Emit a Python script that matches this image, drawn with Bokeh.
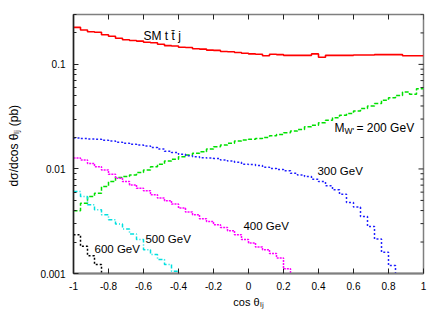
import numpy as np
from bokeh.plotting import figure
from bokeh.models import Range1d, FixedTicker, Label
from bokeh.embed import file_html
from bokeh.resources import INLINE

# ---------------- data ----------------
x_ticks = [-1, -0.8, -0.6, -0.4, -0.2, 0, 0.2, 0.4, 0.6, 0.8, 1]
x_tick_labels = ["-1", "-0.8", "-0.6", "-0.4", "-0.2", "0", "0.2", "0.4", "0.6", "0.8", "1"]
y_ticks = [0.001, 0.01, 0.1]
y_tick_labels = ["0.001", "0.01", "0.1"]
y_minor_ticks = [0.002, 0.003, 0.004, 0.005, 0.006, 0.007, 0.008, 0.009,
                 0.02, 0.03, 0.04, 0.05, 0.06, 0.07, 0.08, 0.09, 0.2, 0.3]

n_bins = 50
bin_edges = np.linspace(-1.0, 1.0, n_bins + 1)

sm_ttj = [0.226, 0.213, 0.205, 0.203, 0.192, 0.186, 0.178, 0.172, 0.169, 0.167,
          0.163, 0.161, 0.156, 0.151, 0.150, 0.146, 0.145, 0.141, 0.140, 0.137,
          0.136, 0.133, 0.132, 0.130, 0.128, 0.126, 0.125, 0.121, 0.125, 0.124,
          0.122, 0.122, 0.122, 0.122, 0.126, 0.117, 0.122, 0.122, 0.122, 0.122,
          0.123, 0.123, 0.123, 0.124, 0.124, 0.124, 0.124, 0.121, 0.121, 0.121]

w200 = [0.00398, 0.00471, 0.00545, 0.00587, 0.00679, 0.00757, 0.00826, 0.00845, 0.00877, 0.00923,
        0.00978, 0.0105, 0.0111, 0.0119, 0.0124, 0.0131, 0.0136, 0.0141, 0.0146, 0.0155,
        0.0163, 0.0169, 0.0176, 0.0185, 0.0189, 0.0192, 0.0195, 0.0200, 0.0208, 0.0214,
        0.0222, 0.0230, 0.0239, 0.0253, 0.0262, 0.0276, 0.0293, 0.0308, 0.0327, 0.0339,
        0.0359, 0.0379, 0.0401, 0.0422, 0.0455, 0.0480, 0.0505, 0.0545, 0.0518, 0.0586]

w300 = [0.0198, 0.0195, 0.0193, 0.0192, 0.0188, 0.0185, 0.0180, 0.0176, 0.0172, 0.0169,
        0.0166, 0.0160, 0.0155, 0.0148, 0.0144, 0.0138, 0.0134, 0.0131, 0.0128, 0.0127,
        0.0126, 0.0122, 0.0119, 0.0116, 0.0111, 0.0110, 0.0108, 0.0104, 0.0101, 0.0099,
        0.0096, 0.0091, 0.00877, 0.00845, 0.00798, 0.00757, 0.00689, 0.00631, 0.00574, 0.00478,
        0.00432, 0.00351, 0.00282, 0.00214, 0.00160, 0.00119]

w400 = [0.0127, 0.0122, 0.0113, 0.0105, 0.00978, 0.00890, 0.00814, 0.00757, 0.00704, 0.00655,
        0.00617, 0.00565, 0.00526, 0.00496, 0.00461, 0.00422, 0.00387, 0.00365, 0.00334, 0.00315,
        0.00293, 0.00276, 0.00257, 0.00235, 0.00211, 0.00196, 0.00179, 0.00169, 0.00155, 0.00141,
        0.00111]

w500 = [0.00608, 0.00545, 0.00454, 0.00407, 0.00365, 0.00327, 0.00297, 0.00267, 0.00239, 0.00211,
        0.00169, 0.00152, 0.00136, 0.00122, 0.00105]

w600 = [0.00235, 0.00182, 0.00148, 0.00122]

x_title = "cos \u03b8\u2097\u2c7c"
y_title = "d\u03c3/dcos \u03b8\u2097\u2c7c  (pb)"

# ---------------- figure ----------------
FONT = "Liberation Sans"
X_MIN, X_MAX = -1.0, 1.0
Y_MIN, Y_MAX = 0.001, 0.3

p = figure(width=443, height=310, x_range=Range1d(X_MIN, X_MAX), y_range=Range1d(Y_MIN, Y_MAX),
           y_axis_type="log", output_backend="svg", toolbar_location=None,
           min_border_left=73, min_border_right=20, min_border_top=14, min_border_bottom=36)
p.xgrid.visible = False
p.ygrid.visible = False
p.outline_line_color = "#7f7f7f"
p.outline_line_width = 1.5
p.background_fill_color = "white"
p.border_fill_color = "white"


def style_axis(ax, color, width):
    ax.axis_line_color = color
    ax.axis_line_width = width
    ax.major_tick_in = 5
    ax.major_tick_out = 0
    ax.minor_tick_in = 3
    ax.minor_tick_out = 0
    ax.major_tick_line_color = "#222222"
    ax.minor_tick_line_color = "#222222"
    ax.major_label_text_font = FONT
    ax.major_label_text_color = "black"
    ax.major_label_text_font_size = "10px"
    ax.major_label_standoff = 8
    ax.axis_label_text_font = FONT
    ax.axis_label_text_font_style = "normal"
    ax.axis_label_text_color = "black"


xa = p.xaxis[0]
xa.ticker = FixedTicker(ticks=x_ticks, minor_ticks=[])
xa.major_label_overrides = {float(t): l for t, l in zip(x_ticks, x_tick_labels)}
style_axis(xa, "#7f7f7f", 2)
xa.axis_label = x_title
xa.axis_label_text_font_size = "11px"
xa.axis_label_standoff = 3

ya = p.yaxis[0]
ya.ticker = FixedTicker(ticks=y_ticks, minor_ticks=y_minor_ticks)
ya.major_label_overrides = {float(t): l for t, l in zip(y_ticks, y_tick_labels)}
style_axis(ya, "#202020", 1.5)
ya.axis_label = y_title
ya.axis_label_text_font_size = "12px"
ya.axis_label_standoff = 16

# mirrored inward ticks on the top and right frame edges (clipped half of a dash marker)
p.scatter(x_ticks, [Y_MAX] * len(x_ticks), marker="dash", angle=np.pi / 2, size=10,
          line_color="#222222", line_width=1)
p.scatter([X_MAX] * len(y_ticks), y_ticks, marker="dash", size=10,
          line_color="#222222", line_width=1)
p.scatter([X_MAX] * len(y_minor_ticks), y_minor_ticks, marker="dash", size=6,
          line_color="#222222", line_width=1)

FLOOR = Y_MIN / 10.0


def hist(vals, color, dash, width=1.5):
    n = len(vals)
    xs = list(bin_edges[:n + 1])
    if n == n_bins:
        ys = list(vals) + [vals[-1]]
    else:
        ys = list(vals) + [FLOOR]
    p.step(xs, ys, mode="after", line_color=color, line_width=width, line_dash=dash)


hist(sm_ttj, "#ff0000", "solid", 1.6)
hist(w200, "#00e000", "4 2")
hist(w300, "#2020ff", "2 2")
hist(w400, "#ff00ff", "2 1")
hist(w500, "#00e0e0", "4 2 1 2")
hist(w600, "#000000", "2 2")


def lab(text, x, y, size, xo=0, yo=0):
    p.add_layout(Label(x=x, y=y, text=text, x_offset=xo, y_offset=yo,
                       text_font=FONT, text_font_size=size, text_align="left",
                       text_baseline="alphabetic", text_color="black"))


# curve labels
lab("SM t t\u0304 j", -0.60, 0.186, "12px")
lab("M", 0.491, 0.0246, "12px")
lab("W'", 0.491, 0.0246, "8.5px", xo=10, yo=-3)
lab("= 200 GeV", 0.491, 0.0246, "12px", xo=22)
lab("300 GeV", 0.394, 0.0096, "11.5px")
lab("400 GeV", -0.029, 0.00286, "11.5px")
lab("500 GeV", -0.589, 0.00212, "11.5px")
lab("600 GeV", -0.880, 0.0017, "11.5px")

open("out.html", "w").write(file_html(p, INLINE))
